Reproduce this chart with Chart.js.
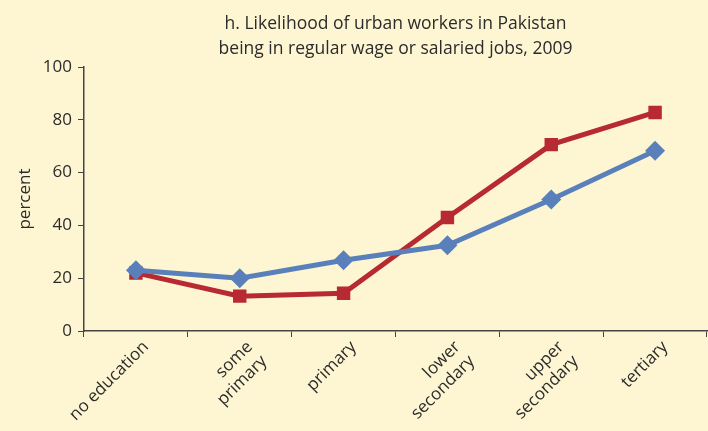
<!DOCTYPE html>
<html>
<head>
<meta charset="utf-8">
<script src="https://cdn.jsdelivr.net/npm/chart.js@4.4.1/dist/chart.umd.min.js"></script>
<style>
  html, body { margin: 0; padding: 0; background: #fef6d3; }
  #wrap { width: 708px; height: 431px; }
</style>
</head>
<body>
<div id="wrap"><canvas id="urbanChart"></canvas></div>
<script>
// Niveles educativos (eje x) y valores de cada serie (%)
const levels = ['no education', ['some', 'primary'], 'primary', ['lower', 'secondary'], ['upper', 'secondary'], 'tertiary'];
const blueSeries = [23, 20, 26.8, 32.5, 49.8, 68.3];
const redSeries = [22, 13.2, 14.3, 43, 70.6, 82.8];
const yTicks = [0, 20, 40, 60, 80, 100];

const FONT = '"Open Sans", sans-serif';
const INK = '#2b2b2b';

// Forzamos el área del gráfico (y el título) hasta el borde derecho del lienzo
const stretchRight = {
    id: 'stretchRight',
    afterLayout(chart) {
        const x = chart.scales.x;
        const area = chart.chartArea;
        const target = chart.width - 1;
        if (area.right < target) {
            area.right = target;
            area.width = area.right - area.left;
            x.right = target;
            x.width = x.right - x.left;
            x.configure();
            if (chart.titleBlock) {
                chart.titleBlock.right = target;
                chart.titleBlock.width = target - chart.titleBlock.left;
            }
        }
    }
};

const ctx = document.getElementById('urbanChart').getContext('2d');
new Chart(ctx, {
    type: 'line',
    plugins: [stretchRight],
    data: {
        labels: levels,
        datasets: [{
            label: 'blue',
            data: blueSeries,
            borderColor: '#5a80bb',
            backgroundColor: '#5a80bb',
            borderWidth: 5,
            pointStyle: 'rectRot',
            pointRadius: 10,
            pointBorderWidth: 0,
            tension: 0,
            order: 0
        }, {
            label: 'red',
            data: redSeries,
            borderColor: '#b72a32',
            backgroundColor: '#b72a32',
            borderWidth: 5,
            pointStyle: 'rect',
            pointRadius: 9.5,
            pointBorderWidth: 0,
            tension: 0,
            order: 1
        }]
    },
    options: {
        responsive: true,
        maintainAspectRatio: false,
        animation: false,
        layout: { padding: { top: 12, right: 1, left: 15, bottom: 0 } },
        plugins: {
            legend: { display: false },
            tooltip: { enabled: false },
            title: {
                display: true,
                fullSize: false,
                text: ['h. Likelihood of urban workers in Pakistan', 'being in regular wage or salaried jobs, 2009'],
                color: INK,
                font: { family: FONT, size: 17.5, weight: 'normal', lineHeight: 1.4 },
                padding: { top: 0, bottom: 6 }
            }
        },
        scales: {
            x: {
                offset: true,
                grid: {
                    offset: true,
                    drawOnChartArea: false,
                    tickLength: 6,
                    tickColor: '#444'
                },
                border: { color: '#444', width: 1.5 },
                ticks: {
                    color: INK,
                    maxRotation: 45,
                    minRotation: 45,
                    padding: 0,
                    labelOffset: 10,
                    font: { family: FONT, size: 17 }
                },
                afterFit: (axis) => { axis.height = 100; }
            },
            y: {
                min: 0,
                max: 100,
                afterBuildTicks: (axis) => { axis.ticks = yTicks.map(v => ({ value: v })); },
                grid: {
                    drawOnChartArea: false,
                    tickLength: 6,
                    tickColor: '#444'
                },
                border: { color: '#444', width: 1.5 },
                ticks: {
                    color: INK,
                    padding: 6,
                    font: { family: FONT, size: 17 }
                },
                title: {
                    display: true,
                    text: 'percent',
                    color: INK,
                    font: { family: FONT, size: 17 },
                    padding: { top: 0, bottom: 4 }
                },
                afterFit: (axis) => { axis.width = 69; }
            }
        }
    }
});
</script>
</body>
</html>
